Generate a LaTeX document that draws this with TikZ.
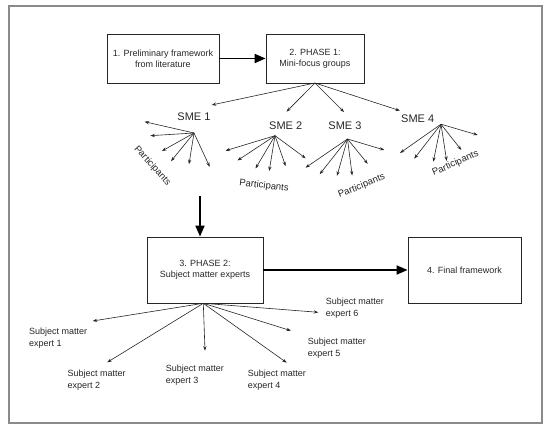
\documentclass[tikz,border=0pt]{standalone}
\usepackage{fontspec}
\setmainfont{Liberation Sans}
\usetikzlibrary{arrows.meta}
\definecolor{ink}{HTML}{262626}
\definecolor{framegray}{HTML}{8A8A8A}
\begin{document}
\begin{tikzpicture}[x=1pt,y=-1pt,
  box/.style={draw=ink,line width=0.8pt,align=center,font=\fontsize{9}{11}\selectfont,text=ink,inner sep=0pt},
  fanarrow/.style={draw=ink,line width=0.6pt,-{Stealth[length=4.5pt,width=3.2pt]}},
  bigarrow/.style={draw=black,line width=1.8pt,-{Triangle[length=11pt,width=9pt]}},
  sme/.style={font=\fontsize{11}{13}\selectfont,text=ink,inner sep=0pt},
  part/.style={font=\fontsize{9.5}{11}\selectfont,text=ink,inner sep=0pt},
  expert/.style={font=\fontsize{9}{11.5}\selectfont,text=ink,align=left,anchor=west,inner sep=0pt}]
\useasboundingbox (0,0) rectangle (550,430);
\draw[framegray,line width=1.2pt] (9,6) rectangle (542,423);

% boxes
\node[box,minimum width=112pt,minimum height=49pt] (b1) at (163,58.5) {1. Preliminary framework\\from literature};
\node[box,minimum width=98pt,minimum height=49pt] (b2) at (315,58.5) {2. PHASE 1:\\Mini-focus groups};
\node[box,minimum width=116pt,minimum height=66pt] (b3) at (205,270) {3. PHASE 2:\\Subject matter experts};
\node[box,minimum width=113pt,minimum height=66pt] (b4) at (464.5,270) {4. Final framework};

\draw[bigarrow] (b1) -- (b2);
\draw[bigarrow] (b3) -- (b4);
\coordinate (vtop) at (200,196);
\draw[bigarrow] (vtop) -- (vtop |- b3.north);

% SME labels
\node[sme] (s1) at (194,117) {SME 1};
\node[sme] (s2) at (285.7,125.7) {SME 2};
\node[sme] (s3) at (345,125.7) {SME 3};
\node[sme] (s4) at (417.7,119) {SME 4};

\coordinate (b2o) at (315,83);
\coordinate (h1) at (211.7,105);
\coordinate (h2) at (286.5,111.7);
\coordinate (h3) at (344,112);
\coordinate (h4) at (400,110.7);
\foreach \h in {h1,h2,h3,h4} \draw[fanarrow] (b2o) -- (\h);

% fans from SMEs
\coordinate (o1) at (194,133);
\coordinate (o2) at (275,135.7);
\coordinate (o3) at (347.5,139);
\coordinate (o4) at (441,124.2);
\foreach \x/\y in {144.5/121.7,150.3/135.7,162/151,171/161.2,189/164.2,209.7/166.8}
  {\coordinate (t) at (\x,\y); \draw[fanarrow] (o1) -- (t);}
\foreach \x/\y in {225.5/150.7,237.5/160.5,255.5/168.5,269.2/171,285.7/166.2,305.7/158.3}
  {\coordinate (t) at (\x,\y); \draw[fanarrow] (o2) -- (t);}
\foreach \x/\y in {305.5/167.7,319.7/174.2,337/175.8,352.2/175.5,367.7/163.8,384.3/150}
  {\coordinate (t) at (\x,\y); \draw[fanarrow] (o3) -- (t);}
\foreach \x/\y in {400/153,414.2/158.7,433.3/161.7,446.7/161,461.3/150,477.7/135}
  {\coordinate (t) at (\x,\y); \draw[fanarrow] (o4) -- (t);}

\node[part,rotate=-48] (p1) at (152.3,166) {Participants};
\node[part,rotate=-7] (p2) at (264,186) {Participants};
\node[part,rotate=22] (p3) at (361.7,186) {Participants};
\node[part,rotate=24] (p4) at (455.5,163.5) {Participants};

% experts
\coordinate (b3o) at (203.3,303.3);
\foreach \x/\y in {92.7/321,107.3/362.3,205/350.7,286.7/362.7,291/330.7,318.3/312.3}
  {\coordinate (t) at (\x,\y); \draw[fanarrow] (b3o) -- (t);}
\node[expert] (e1) at (29,338) {Subject matter\\expert 1};
\node[expert] (e2) at (67.3,380.3) {Subject matter\\expert 2};
\node[expert] (e3) at (165.7,375) {Subject matter\\expert 3};
\node[expert] (e4) at (247.7,380.3) {Subject matter\\expert 4};
\node[expert] (e5) at (307.7,348) {Subject matter\\expert 5};
\node[expert] (e6) at (325.7,308) {Subject matter\\expert 6};
\end{tikzpicture}
\end{document}
